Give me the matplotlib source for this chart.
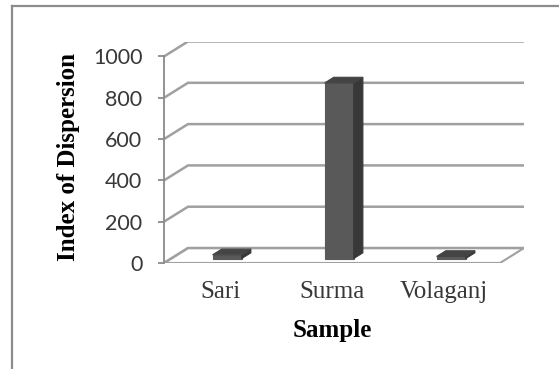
import matplotlib
matplotlib.use("Agg")
import matplotlib.pyplot as plt
from matplotlib.lines import Line2D

# ---- data ----
categories = ["Sari", "Surma", "Volaganj"]
dispersion = [18, 850, 10]
y_ticks = [0, 200, 400, 600, 800, 1000]
y_title = "Index of Dispersion"
x_title = "Sample"

# ---- pseudo-3D geometry (data units) ----
DX, DY = 0.214, 72.5          # offset of the back wall relative to the front plane
BAR_W = 0.26                   # bar width
D0, D1 = 0.30, 0.68            # bar depth range (fraction of floor depth)
X0, X1 = -0.5, len(categories) - 0.5

GRID_C = "#a0a0a0"
AXIS_C = "#8a8a8a"
TEXT_C = "#383838"

fig = plt.figure(figsize=(5.59, 3.69), dpi=100)
fig.patch.set_facecolor("white")

W, H = 559, 369
left_px, right_px = 164, 524
top_px, bottom_px = 41.5, 263
ax = fig.add_axes([left_px / W, 1 - bottom_px / H,
                   (right_px - left_px) / W, (bottom_px - top_px) / H])
ax.set_xlim(X0, X1 + DX)
ax.set_ylim(0, y_ticks[-1] + DY)
ax.patch.set_alpha(0)


def p(x, y, d):
    """Project a point at depth d (0 = front, 1 = back wall)."""
    return x + d * DX, y + d * DY


# floor
floor = [p(X0, 0, 0), p(X1, 0, 0), p(X1, 0, 1), p(X0, 0, 1)]
ax.fill([q[0] for q in floor], [q[1] for q in floor], facecolor="white",
        edgecolor=GRID_C, lw=1.5, zorder=1, joinstyle="round")

# gridlines: diagonal on the side wall, then along the back wall
for v in y_ticks:
    pts = [p(X0, v, 0), p(X0, v, 1), p(X1, v, 1)]
    ax.plot([q[0] for q in pts], [q[1] for q in pts], color=GRID_C,
            lw=1.8, zorder=2, solid_capstyle="butt")

# bars
FRONT_C, SIDE_C, TOP_C = "#595959", "#383838", "#444444"
for i, v in enumerate(dispersion):
    xl, xr = i - BAR_W / 2, i + BAR_W / 2
    front = [p(xl, 0, D0), p(xr, 0, D0), p(xr, v, D0), p(xl, v, D0)]
    side = [p(xr, 0, D0), p(xr, 0, D1), p(xr, v, D1), p(xr, v, D0)]
    top = [p(xl, v, D0), p(xr, v, D0), p(xr, v, D1), p(xl, v, D1)]
    for poly, c in ((front, FRONT_C), (side, SIDE_C), (top, TOP_C)):
        ax.fill([q[0] for q in poly], [q[1] for q in poly], facecolor=c,
                edgecolor=c, lw=0.8, zorder=3)

# axes styling
for s in ("top", "right", "bottom"):
    ax.spines[s].set_visible(False)
ax.spines["left"].set_bounds(0, y_ticks[-1])
ax.spines["left"].set_color(AXIS_C)
ax.spines["left"].set_linewidth(1.3)
ax.spines["left"].set_zorder(4)

ax.set_yticks(y_ticks)
ax.set_yticklabels([str(t) for t in y_ticks], fontfamily="Lato",
                   fontsize=15.5, color=TEXT_C)
ax.tick_params(axis="y", direction="out", length=4.5, width=1.3,
               color=AXIS_C, pad=11)

ax.set_xticks(range(len(categories)))
ax.set_xticklabels(categories, fontfamily="Liberation Serif",
                   fontsize=18, color=TEXT_C)
ax.tick_params(axis="x", length=0, pad=13)

ax.set_ylabel(y_title, fontfamily="Liberation Serif", fontsize=18,
              fontweight="bold", color="black", va="center")
ax.yaxis.set_label_coords(69 / W, 1 - 157 / H, transform=fig.transFigure)
ax.set_xlabel(x_title, fontfamily="Liberation Serif", fontsize=18,
              fontweight="bold", color="black", va="center")
ax.xaxis.set_label_coords(332 / W, 1 - 330 / H, transform=fig.transFigure)

# chart area border
fig.add_artist(Line2D([12 / W, 1.0], [1 - 6 / H, 1 - 6 / H],
                      transform=fig.transFigure, color="#8c8c8c", lw=1.6))
fig.add_artist(Line2D([12 / W, 12 / W], [0.0, 1 - 6 / H],
                      transform=fig.transFigure, color="#8c8c8c", lw=1.6))

fig.savefig("out.png", dpi=100, facecolor="white")
